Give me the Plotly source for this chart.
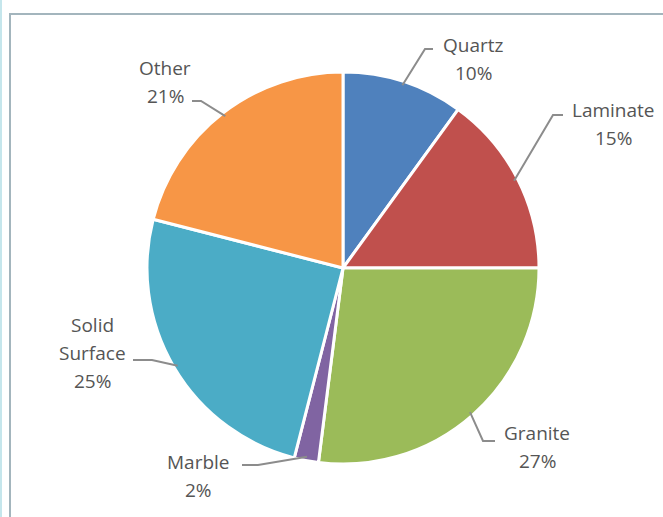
import math
import plotly.graph_objects as go

# ---- data ----
categories = ["Quartz", "Laminate", "Granite", "Marble", "Solid Surface", "Other"]
shares = [10, 15, 27, 2, 25, 21]
label_lines = [["Quartz"], ["Laminate"], ["Granite"], ["Marble"], ["Solid", "Surface"], ["Other"]]
colors = ["#4F81BD", "#C0504D", "#9BBB59", "#8064A2", "#4BACC6", "#F79646"]

# ---- layout constants (pixels) ----
W, H = 663, 517
CX, CY, R = 343, 268, 196
# label layout per slice: elbow point, tail end, text center x, first line y
LABEL_LAYOUT = {
    "Quartz":        dict(elbow=(425, 49),  tail=(433, 49),  tx=473, ty=45),
    "Laminate":      dict(elbow=(553, 115), tail=(563, 115), tx=613, ty=110),
    "Granite":       dict(elbow=(483, 441), tail=(495, 441), tx=537, ty=433),
    "Marble":        dict(elbow=(258, 465), tail=(242, 465), tx=198, ty=462),
    "Solid Surface": dict(elbow=(152, 360), tail=(133, 360), tx=92,  ty=325),
    "Other":         dict(elbow=(201, 101), tail=(192, 101), tx=165, ty=68),
}
LINE_GAP = 28
TEXT_COLOR = "#555555"
FONT = "'Open Sans', Lato, sans-serif"

fig = go.Figure()
fig.add_trace(go.Pie(
    labels=categories, values=shares, sort=False, direction="clockwise",
    rotation=0, textinfo="none", hoverinfo="label+percent",
    marker=dict(colors=colors, line=dict(color="white", width=3)),
    domain=dict(x=[(CX - R) / W, (CX + R) / W], y=[1 - (CY + R) / H, 1 - (CY - R) / H]),
    showlegend=False,
))

shapes = []
annotations = []
total = sum(shares)
cum = 0
for cat, val, lines in zip(categories, shares, label_lines):
    mid = (cum + val / 2) / total * 2 * math.pi
    cum += val
    sx = CX + 0.98 * R * math.sin(mid)
    sy = CY - 0.98 * R * math.cos(mid)
    lay = LABEL_LAYOUT[cat]
    ex, ey = lay["elbow"]
    tx_, ty_ = lay["tail"]
    shapes.append(dict(type="path", xref="x", yref="y",
                       path=f"M {sx:.1f},{sy:.1f} L {ex},{ey} L {tx_},{ty_}",
                       line=dict(color="#8C8C8C", width=2)))
    pct = f"{round(val / total * 100)}%"
    all_lines = lines + [pct]
    for i, t in enumerate(all_lines):
        annotations.append(dict(x=lay["tx"], y=lay["ty"] + i * LINE_GAP, xref="x", yref="y",
                                text=t, showarrow=False, xanchor="center", yanchor="middle",
                                font=dict(family=FONT, size=19, color=TEXT_COLOR)))

# frame
shapes.append(dict(type="rect", xref="x", yref="y", x0=10, y0=14, x1=W + 5, y1=H + 5,
                   line=dict(color="#A3B5BD", width=2), layer="below"))
shapes.append(dict(type="line", xref="x", yref="y", x0=1, y0=0, x1=1, y1=H,
                   line=dict(color="#C5E6EC", width=2), layer="below"))

fig.update_layout(
    width=W, height=H,
    margin=dict(l=0, r=0, t=0, b=0),
    paper_bgcolor="white", plot_bgcolor="rgba(0,0,0,0)",
    xaxis=dict(range=[0, W], visible=False, fixedrange=True),
    yaxis=dict(range=[H, 0], visible=False, fixedrange=True),
    shapes=shapes, annotations=annotations,
)

fig.write_html("out.html", config={"displayModeBar": False},
               post_script="document.body.style.margin='0';")
